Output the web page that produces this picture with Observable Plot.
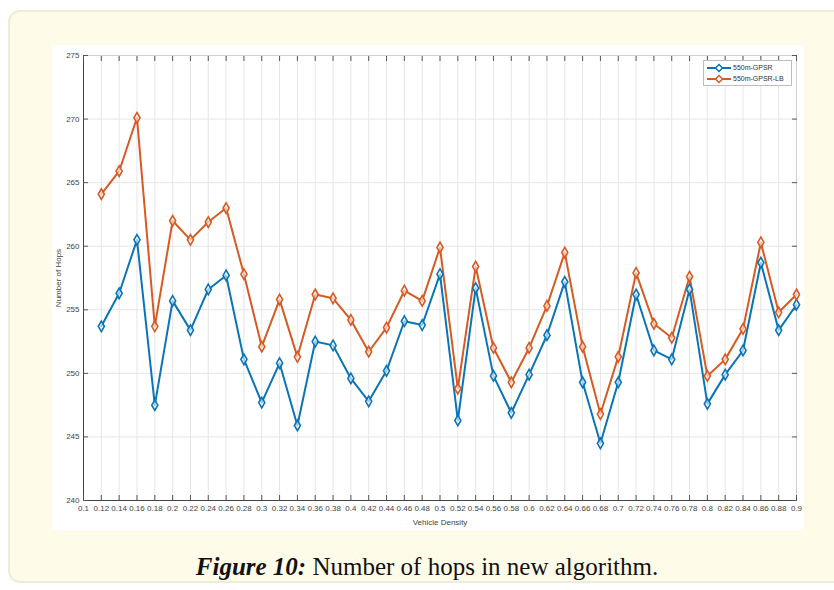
<!DOCTYPE html>
<html>
<head>
<meta charset="utf-8">
<script src="https://cdn.jsdelivr.net/npm/d3@7"></script>
<script src="https://cdn.jsdelivr.net/npm/@observablehq/plot@0.6"></script>
<style>
  html, body { margin: 0; padding: 0; background: #ffffff; width: 834px; height: 590px; overflow: hidden; }
  #card { position: absolute; left: 8px; top: 10px; width: 840px; height: 573px; background: #fffbe9; border: 2px solid #f1ecd8; border-radius: 12px; box-sizing: border-box; }
  #chart { position: absolute; left: 52px; top: 45px; width: 752px; height: 485px; background: #fff; }
  #legend { position: absolute; left: 703px; top: 60px; width: 89px; height: 26px; background: #fff; border: 1px solid #bdbdbd; box-sizing: border-box; font: 7px "Liberation Sans", Arial, sans-serif; color: #333; }
  #legend .row { position: absolute; left: 2px; height: 11px; display: flex; align-items: center; }
  #legend svg { display: block; margin-right: 1px; }
  #caption { position: absolute; left: 18px; width: 818px; top: 552px; text-align: center; font-family: "Liberation Serif", "DejaVu Serif", serif; font-size: 25px; line-height: 30px; color: #111; }
</style>
</head>
<body>
<div id="card"></div>
<div id="chart"></div>
<div id="legend"></div>
<div id="caption"><b><i>Figure 10:</i></b> Number of hops in new algorithm.</div>
<script>
const density = [0.12,0.14,0.16,0.18,0.2,0.22,0.24,0.26,0.28,0.3,0.32,0.34,0.36,0.38,0.4,0.42,0.44,0.46,0.48,0.5,0.52,0.54,0.56,0.58,0.6,0.62,0.64,0.66,0.68,0.7,0.72,0.74,0.76,0.78,0.8,0.82,0.84,0.86,0.88,0.9];
const gpsr = [253.7,256.3,260.5,247.5,255.7,253.4,256.6,257.7,251.1,247.7,250.8,245.9,252.5,252.2,249.6,247.8,250.2,254.1,253.8,257.8,246.3,256.7,249.8,246.9,249.9,253.0,257.2,249.3,244.5,249.3,256.2,251.8,251.1,256.6,247.6,249.9,251.8,258.7,253.4,255.4];
const gpsrLB = [264.1,265.9,270.1,253.7,262.0,260.5,261.9,263.0,257.8,252.1,255.8,251.3,256.2,255.9,254.2,251.7,253.6,256.5,255.7,259.9,248.8,258.4,252.0,249.3,252.0,255.3,259.5,252.1,246.8,251.3,257.9,253.9,252.8,257.6,249.8,251.1,253.5,260.3,254.8,256.2];
const seriesNames = ["550m-GPSR", "550m-GPSR-LB"];
const seriesColors = ["#0a74b8", "#d65a22"];
const xTicks = [0.1,0.12,0.14,0.16,0.18,0.2,0.22,0.24,0.26,0.28,0.3,0.32,0.34,0.36,0.38,0.4,0.42,0.44,0.46,0.48,0.5,0.52,0.54,0.56,0.58,0.6,0.62,0.64,0.66,0.68,0.7,0.72,0.74,0.76,0.78,0.8,0.82,0.84,0.86,0.88,0.9];
const yTicks = [240,245,250,255,260,265,270,275];
const xLabel = "Vehicle Density";
const yLabel = "Number of Hops";

const rows = [];
density.forEach((d, i) => {
  rows.push({x: d, y: gpsr[i], s: seriesNames[0]});
  rows.push({x: d, y: gpsrLB[i], s: seriesNames[1]});
});

const fmt = d => String(+d.toFixed(2));

const chart = Plot.plot({
  width: 752, height: 485,
  marginLeft: 31, marginRight: 8, marginTop: 10, marginBottom: 30,
  x: {domain: [0.1, 0.9]},
  y: {domain: [240, 275]},
  color: {domain: seriesNames, range: seriesColors},
  style: {fontFamily: "'Liberation Sans', Arial, sans-serif", fontSize: "8px", color: "#444", background: "#fff", overflow: "visible"},
  marks: [
    Plot.gridX(xTicks, {stroke: "#e6e6e6", strokeOpacity: 1}),
    Plot.gridY(yTicks, {stroke: "#e6e6e6", strokeOpacity: 1}),
    Plot.frame({stroke: "#d0d0d0"}),
    Plot.ruleX([0.1], {stroke: "#444"}),
    Plot.ruleY([240], {stroke: "#444"}),
    Plot.axisX(xTicks, {anchor: "bottom", tickSize: -5, fill: "none", stroke: "#555", label: null}),
    Plot.axisX(xTicks, {anchor: "top", tickSize: -5, fill: "none", stroke: "#555", label: null}),
    Plot.axisY(yTicks, {anchor: "left", tickSize: -5, fill: "none", stroke: "#555", label: null}),
    Plot.axisY(yTicks, {anchor: "right", tickSize: -5, fill: "none", stroke: "#555", label: null}),
    Plot.axisX(xTicks, {anchor: "bottom", tickSize: 0, tickPadding: 5, tickFormat: fmt, fill: "#444", label: xLabel, labelAnchor: "center", labelOffset: 24, labelArrow: "none"}),
    Plot.axisY(yTicks, {anchor: "left", tickSize: 0, tickPadding: 4, fill: "#444", label: yLabel, labelAnchor: "center", labelOffset: 28, labelArrow: "none"}),
    Plot.line(rows, {x: "x", y: "y", z: "s", stroke: "s", strokeWidth: 2}),
    Plot.dot(rows, {x: "x", y: "y", stroke: "s", symbol: "diamond", r: 3.2, strokeWidth: 1.6, fill: "#fff", fillOpacity: 0.6})
  ]
});
document.getElementById("chart").appendChild(chart);

const legend = document.getElementById("legend");
seriesNames.forEach((name, i) => {
  const row = document.createElement("div");
  row.className = "row";
  row.style.top = (1 + i * 11) + "px";
  row.innerHTML = `<svg width="26" height="10"><line x1="1" y1="5" x2="25" y2="5" stroke="${seriesColors[i]}" stroke-width="2"/><path d="M13,1.5L16.5,5L13,8.5L9.5,5Z" fill="#fff" stroke="${seriesColors[i]}" stroke-width="1.5"/></svg><span>${name}</span>`;
  legend.appendChild(row);
});
</script>
</body>
</html>
